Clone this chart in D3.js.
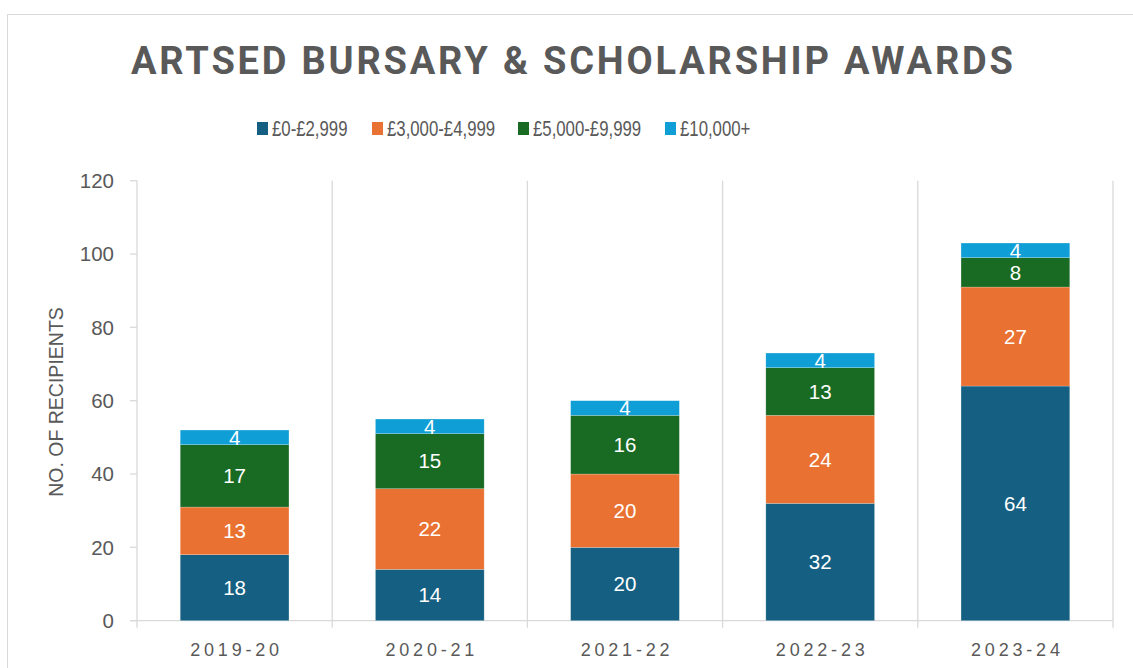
<!DOCTYPE html>
<html>
<head>
<meta charset="utf-8">
<script src="https://cdn.jsdelivr.net/npm/d3@7"></script>
<style>
  html, body { margin: 0; padding: 0; background: #fff; }
  svg { display: block; }
  text { font-family: "Liberation Sans", Arial, sans-serif; fill: #595959; }
</style>
</head>
<body>
<div id="chart"></div>
<script>
(function () {
  "use strict";

  // data
  var years = ["2019-20", "2020-21", "2021-22", "2022-23", "2023-24"];
  var bands = ["£0-£2,999", "£3,000-£4,999", "£5,000-£9,999", "£10,000+"];
  var band0 = [18, 14, 20, 32, 64];
  var band1 = [13, 22, 20, 24, 27];
  var band2 = [17, 15, 16, 13, 8];
  var band3 = [4, 4, 4, 4, 4];
  var colours = ["#156082", "#e97132", "#196b24", "#0f9ed5"];
  var yTicks = [0, 20, 40, 60, 80, 100, 120];

  var W = 1133, H = 668;
  var rows = years.map(function (y, i) {
    return { year: y, a: band0[i], b: band1[i], c: band2[i], d: band3[i] };
  });
  var keys = ["a", "b", "c", "d"];

  var svg = d3.select("#chart").append("svg")
      .attr("width", W)
      .attr("height", H);

  // chart frame
  svg.append("rect")
    .attr("x", 7.5).attr("y", 14.5)
    .attr("width", W).attr("height", H)
    .attr("fill", "#fff")
    .attr("stroke", "#d9d9d9");

  var x = d3.scaleBand().domain(years).range([137, 1113]).paddingInner(0).paddingOuter(0);
  var y = d3.scaleLinear().domain([0, 120]).range([620.7, 180.7]);
  var barW = x.bandwidth() * 0.557;

  // vertical gridlines at category edges
  var edges = years.map(function (d) { return x(d); }).concat([x.range()[1]]);
  svg.append("g").selectAll("line")
    .data(edges)
    .enter().append("line")
      .attr("x1", function (d) { return d; })
      .attr("x2", function (d) { return d; })
      .attr("y1", y(120))
      .attr("y2", y(0) + 7)
      .attr("stroke", "#d9d9d9")
      .attr("stroke-width", 1.3);

  // y axis ticks + labels
  var yAxis = svg.append("g");
  yAxis.selectAll("line")
    .data(yTicks)
    .enter().append("line")
      .attr("x1", 130).attr("x2", 137)
      .attr("y1", function (d) { return y(d); })
      .attr("y2", function (d) { return y(d); })
      .attr("stroke", "#d9d9d9")
      .attr("stroke-width", 1.3);
  yAxis.selectAll("text")
    .data(yTicks)
    .enter().append("text")
      .attr("x", 114)
      .attr("y", function (d) { return y(d); })
      .attr("dy", "0.35em")
      .attr("text-anchor", "end")
      .style("font-size", "20.5px")
      .text(function (d) { return d; });

  // baseline
  svg.append("line")
    .attr("x1", 130).attr("x2", 1113)
    .attr("y1", y(0)).attr("y2", y(0))
    .attr("stroke", "#d9d9d9")
    .attr("stroke-width", 1.3);

  // stacked bars
  var stack = d3.stack().keys(keys)(rows);
  var layer = svg.append("g").selectAll("g")
    .data(stack)
    .enter().append("g")
      .attr("fill", function (d, i) { return colours[i]; });

  layer.selectAll("rect")
    .data(function (d) { return d; })
    .enter().append("rect")
      .attr("x", function (d) { return x(d.data.year) + (x.bandwidth() - barW) / 2; })
      .attr("y", function (d) { return y(d[1]); })
      .attr("width", barW)
      .attr("height", function (d) { return y(d[0]) - y(d[1]); })
      .attr("stroke", "#ffffff")
      .attr("stroke-opacity", 0.35)
      .attr("stroke-width", 0.6);

  layer.selectAll("text")
    .data(function (d) { return d; })
    .enter().append("text")
      .attr("x", function (d) { return x(d.data.year) + x.bandwidth() / 2; })
      .attr("y", function (d) { return (y(d[0]) + y(d[1])) / 2; })
      .attr("dy", "0.35em")
      .attr("text-anchor", "middle")
      .style("font-size", "20.5px")
      .style("fill", "#ffffff")
      .text(function (d) { return d[1] - d[0]; });

  // category labels
  svg.append("g").selectAll("text")
    .data(years)
    .enter().append("text")
      .attr("x", function (d) { return x(d) + x.bandwidth() / 2 + 2; })
      .attr("y", 656)
      .attr("text-anchor", "middle")
      .style("font-size", "18px")
      .style("letter-spacing", "3.8px")
      .text(function (d) { return d; });

  // y axis title
  svg.append("text")
    .attr("transform", "translate(63,402) rotate(-90)")
    .attr("text-anchor", "middle")
    .style("font-size", "19.5px")
    .text("NO. OF RECIPIENTS");

  // title
  svg.append("text")
    .attr("x", 131)
    .attr("y", 74)
    .style("font-family", "Roboto, 'Liberation Sans', sans-serif")
    .style("font-weight", "bold")
    .style("font-size", "38px")
    .style("letter-spacing", "2.8px")
    .text("ARTSED BURSARY & SCHOLARSHIP AWARDS");

  // legend (narrow face imitated with a horizontal squeeze)
  var legX = [257, 372, 518, 665];
  var leg = svg.append("g").selectAll("g")
    .data(bands)
    .enter().append("g")
      .attr("transform", function (d, i) { return "translate(" + legX[i] + ",122)"; });
  leg.append("rect")
    .attr("width", 11).attr("height", 13)
    .attr("fill", function (d, i) { return colours[i]; });
  leg.append("text")
    .attr("transform", "translate(15,6.5) scale(0.78,1)")
    .attr("dy", "0.36em")
    .style("font-size", "21.5px")
    .text(function (d) { return d; });
}());
</script>
</body>
</html>
